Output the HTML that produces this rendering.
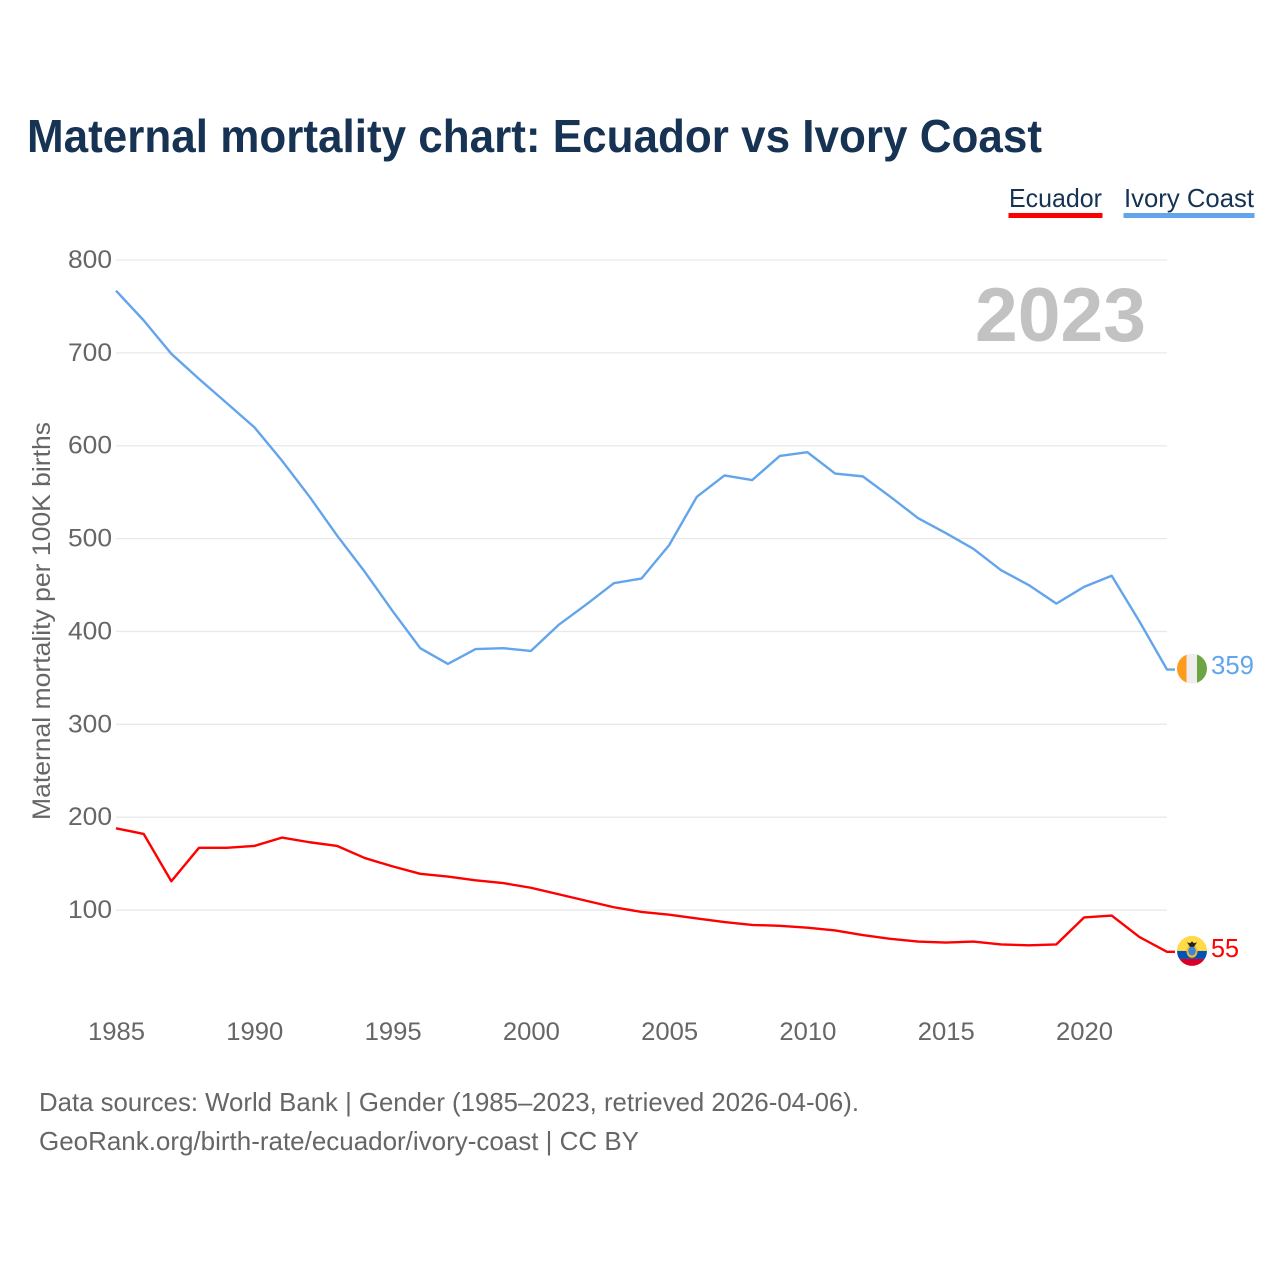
<!DOCTYPE html>
<html>
<head>
<meta charset="utf-8">
<style>
html,body{margin:0;padding:0;background:#fff}
svg{display:block}
text{font-family:"Liberation Sans",sans-serif}
</style>
</head>
<body>
<svg id="chart" width="1280" height="1280" viewBox="0 0 1280 1280" xmlns="http://www.w3.org/2000/svg">
  <rect width="1280" height="1280" fill="#fff"/>
  <text x="27" y="152" font-size="46" font-weight="700" fill="#173353" textLength="1015" lengthAdjust="spacingAndGlyphs">Maternal mortality chart: Ecuador vs Ivory Coast</text>
  <g id="grid"></g>
  <text x="975" y="341" font-size="76" font-weight="700" fill="#c2c2c2" textLength="171" lengthAdjust="spacingAndGlyphs">2023</text>
  <g id="yticks"></g>
  <g id="xticks"></g>
  <text transform="translate(50,820) rotate(-90)" x="0" y="0" font-size="25" fill="#666" textLength="398" lengthAdjust="spacingAndGlyphs">Maternal mortality per 100K births</text>
  <g>
    <g>
      <text x="1009" y="207" font-size="26" fill="#173353" textLength="93" lengthAdjust="spacingAndGlyphs">Ecuador</text>
      <rect x="1008.500" y="213" width="94" height="5" fill="#ff0000"/>
    </g>
    <g>
      <text x="1124" y="207" font-size="26" fill="#173353" textLength="130" lengthAdjust="spacingAndGlyphs">Ivory Coast</text>
      <rect x="1123.500" y="213" width="131" height="5" fill="#63a5ec"/>
    </g>
  </g>
  <path id="line-ivory" fill="none" stroke="#63a5ec" stroke-width="2.400" stroke-linejoin="round"/>
  <path id="line-ecuador" fill="none" stroke="#ff0000" stroke-width="2.400" stroke-linejoin="round"/>
  <defs>
    <clipPath id="clip-ivory"><circle id="clip-ivory-circle" cx="1192" r="15"/></clipPath>
    <clipPath id="clip-ecuador"><circle id="clip-ecuador-circle" cx="1192" r="15"/></clipPath>
  </defs>
  <g id="flag-ivory" clip-path="url(#clip-ivory)"></g>
  <g id="flag-ecuador" clip-path="url(#clip-ecuador)"></g>
  <text id="value-ivory" x="1211" font-size="26" fill="#63a5ec" textLength="43" lengthAdjust="spacingAndGlyphs"></text>
  <text id="value-ecuador" x="1211" font-size="26" fill="#ff0000" textLength="28" lengthAdjust="spacingAndGlyphs"></text>
  <text x="39" y="1111" font-size="26" fill="#666" textLength="820" lengthAdjust="spacingAndGlyphs">Data sources: World Bank | Gender (1985–2023, retrieved 2026-04-06).</text>
  <text x="39" y="1150" font-size="26" fill="#666" textLength="600" lengthAdjust="spacingAndGlyphs">GeoRank.org/birth-rate/ecuador/ivory-coast | CC BY</text>
</svg>
<script>
var years = [1985,1986,1987,1988,1989,1990,1991,1992,1993,1994,1995,1996,1997,1998,1999,2000,2001,2002,2003,2004,2005,2006,2007,2008,2009,2010,2011,2012,2013,2014,2015,2016,2017,2018,2019,2020,2021,2022,2023];
var ivoryCoast = [767,735,699,672,646,620,584,545,503,464,422,382,365,381,382,379,407,429,452,457,493,545,568,563,589,593,570,567,545,522,506,489,466,450,430,448,460,411,359];
var ecuador = [188,182,131,167,167,169,178,173,169,156,147,139,136,132,129,124,117,110,103,98,95,91,87,84,83,81,78,73,69,66,65,66,63,62,63,92,94,71,55];
var yTicks = [100,200,300,400,500,600,700,800];
var xTicks = [1985,1990,1995,2000,2005,2010,2015,2020];

function xScale(year){ return 116 + (year - 1985) * (1167 - 116) / (2023 - 1985); }
function yScale(v){ return 1002.9 - v * 0.9286; }
var NS = 'http://www.w3.org/2000/svg';
function make(tag, attrs, parent){
  var el = document.createElementNS(NS, tag);
  for (var k in attrs) el.setAttribute(k, attrs[k]);
  parent.appendChild(el);
  return el;
}
var grid = document.getElementById('grid');
var yGroup = document.getElementById('yticks');
var xGroup = document.getElementById('xticks');
yTicks.forEach(function(v){
  var line = make('line', {x1:116, x2:1167, y1:yScale(v), y2:yScale(v), stroke:'#e9e9e9', 'stroke-width':1.3}, grid);
  
  
  var label = make('text', {x:112, y:yScale(v) + 8, 'font-size':25, fill:'#666', 'text-anchor':'end', textLength:44, lengthAdjust:'spacingAndGlyphs'}, yGroup);
  
  
  label.textContent = v;
});
xTicks.forEach(function(year){
  var label = make('text', {x:xScale(year) + 0.5, y:1040, 'font-size':25, fill:'#666', 'text-anchor':'middle', textLength:57, lengthAdjust:'spacingAndGlyphs'}, xGroup);
  
  
  label.textContent = year;
});
function linePath(values){
  var d = values.map(function(v, i){ return (i ? 'L' : 'M') + xScale(years[i]).toFixed(2) + ' ' + yScale(v).toFixed(2); }).join(' ');
  var last = values[values.length - 1];
  return d + ' L' + (xScale(years[years.length - 1]) + 8).toFixed(2) + ' ' + yScale(last).toFixed(2);
}
document.getElementById('line-ivory').setAttribute('d', linePath(ivoryCoast));
document.getElementById('line-ecuador').setAttribute('d', linePath(ecuador));

var ivLast = ivoryCoast[ivoryCoast.length - 1];
var ecLast = ecuador[ecuador.length - 1];
var ivY = yScale(ivLast) - 0.9;
var ecY = yScale(ecLast) - 0.9;
document.getElementById('clip-ivory-circle').setAttribute('cy', ivY);
document.getElementById('clip-ecuador-circle').setAttribute('cy', ecY);
var ivVal = document.getElementById('value-ivory');
ivVal.setAttribute('y', ivY + 5.5);
ivVal.textContent = ivLast;
var ecVal = document.getElementById('value-ecuador');
ecVal.setAttribute('y', ecY + 6);
ecVal.textContent = ecLast;

var fi = document.getElementById('flag-ivory');
make('rect', {x:1177, y:ivY - 15, width:9.500, height:30, fill:'#ff9b1a'}, fi);
make('rect', {x:1186.500, y:ivY - 15, width:10.500, height:30, fill:'#eeeeee'}, fi);
make('rect', {x:1197, y:ivY - 15, width:10, height:30, fill:'#6da544'}, fi);

var fe = document.getElementById('flag-ecuador');
make('rect', {x:1177, y:ecY - 15, width:30, height:15, fill:'#ffda44'}, fe);
make('rect', {x:1177, y:ecY, width:30, height:8, fill:'#0052b4'}, fe);
make('rect', {x:1177, y:ecY + 8, width:30, height:8, fill:'#d80027'}, fe);
make('ellipse', {cx:1192, cy:ecY + 0.5, rx:5.500, ry:6.500, fill:'#e8b93a'}, fe);
make('ellipse', {cx:1192, cy:ecY, rx:3.800, ry:4.500, fill:'#3f84d8'}, fe);
make('path', {d:'M1187 ' + (ecY - 8.5) + ' l3 0.800 l2 -1.800 l2 1.800 l3 -0.800 l-3 4.500 l-4 0 z', fill:'#222'}, fe);
</script>
</body>
</html>
